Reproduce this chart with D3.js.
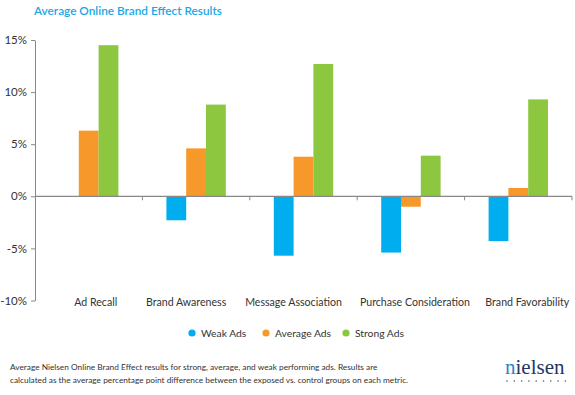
<!DOCTYPE html>
<html><head><meta charset="utf-8">
<script src="https://cdn.jsdelivr.net/npm/d3@7"></script>
<style>body{margin:0;background:#fff;} svg{display:block;font-family:Lato,"Open Sans",sans-serif;}</style>
</head><body>
<script>
const categories = ["Ad Recall","Brand Awareness","Message Association","Purchase Consideration","Brand Favorability"];
const seriesNames = ["Weak Ads","Average Ads","Strong Ads"];
const weakAds = [0, -2.3, -5.7, -5.4, -4.3];
const averageAds = [6.3, 4.6, 3.8, -1.0, 0.8];
const strongAds = [14.5, 8.8, 12.7, 3.9, 9.3];
const yTicks = [-10, -5, 0, 5, 10, 15];
const colors = ["#00aeef", "#f7992a", "#8dc63f"];
const title = "Average Online Brand Effect Results";
const footnote = ["Average Nielsen Online Brand Effect results for strong, average, and weak performing  ads. Results are",
  "calculated as the average percentage point difference between the exposed vs. control groups on each metric."];

const W = 575, H = 395;
const svg = d3.select("body").append("svg").attr("width", W).attr("height", H);
const series = [weakAds, averageAds, strongAds];

const x = d3.scaleBand().domain(categories).range([35, 572]).paddingInner(0).paddingOuter(0);
const y = d3.scaleLinear().domain([-10, 15]).range([300.5, 40]);
const x1 = d3.scaleBand().domain(seriesNames).range([24, x.bandwidth() - 24]);

svg.append("text").attr("x", 34).attr("y", 15).attr("fill", "#1aa7e6")
  .attr("font-size", 11.8).attr("font-weight", 600).text(title);

// bars
categories.forEach((c, i) => {
  series.forEach((s, j) => {
    const v = s[i];
    if (v === 0) return;
    svg.append("rect")
      .attr("x", x(c) + x1(seriesNames[j]))
      .attr("width", x1.bandwidth())
      .attr("y", y(Math.max(0, v)))
      .attr("height", Math.abs(y(v) - y(0)))
      .attr("fill", colors[j]);
  });
});

// y axis
const yAxis = svg.append("g").attr("transform", "translate(35,0)")
  .call(d3.axisLeft(y).tickValues(yTicks).tickFormat(d => d + "%").tickSize(4).tickSizeOuter(0));
yAxis.select(".domain").attr("stroke", "#888");
yAxis.selectAll(".tick line").attr("stroke", "#888");
yAxis.selectAll(".tick text").attr("fill", "#333").attr("font-size", 11.5).attr("font-family", "Lato,sans-serif").attr("x", -8);

// zero axis with category ticks
const xAxis = svg.append("g").attr("transform", `translate(0,${y(0)})`);
xAxis.append("line").attr("x1", 35).attr("x2", 572).attr("stroke", "#888").attr("stroke-width", 1.2);
categories.forEach(c => {
  xAxis.append("line").attr("x1", x(c) + x.bandwidth()).attr("x2", x(c) + x.bandwidth())
    .attr("y1", 0).attr("y2", 4).attr("stroke", "#888");
});

// category labels
const labelShift = [7, -10, -10, 4, 9];
categories.forEach((c, i) => {
  svg.append("text").attr("x", x(c) + x.bandwidth() / 2 + labelShift[i]).attr("y", 306)
    .attr("text-anchor", "middle").attr("fill", "#333").attr("font-size", 10.6).text(c);
});

// legend
const legendX = [192, 266, 346];
seriesNames.forEach((n, j) => {
  const g = svg.append("g").attr("transform", `translate(${legendX[j]},333)`);
  g.append("circle").attr("r", 3.6).attr("fill", colors[j]);
  g.append("text").attr("x", 9).attr("y", 3.8).attr("fill", "#333").attr("font-size", 10.3).text(n);
});

// footnote
footnote.forEach((t, i) => {
  svg.append("text").attr("x", 10).attr("y", 370 + i * 12.5).attr("fill", "#333")
    .attr("font-size", 8.3).text(t);
});

// logo
const logo = svg.append("text").attr("x", 505).attr("y", 374).attr("font-family", "'Liberation Serif',serif")
  .attr("font-size", 21);
logo.append("tspan").attr("fill", "#2a86c8").text("n");
logo.append("tspan").attr("fill", "#1f3566").text("ielsen");
d3.range(9).forEach(k => {
  svg.append("circle").attr("cx", 507 + k * 7.3).attr("cy", 381).attr("r", 0.8).attr("fill", "#555");
});
</script>
</body></html>
